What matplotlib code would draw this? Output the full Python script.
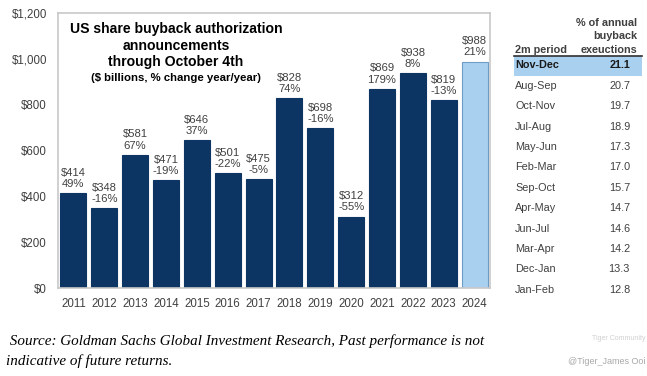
import matplotlib
matplotlib.use("Agg")
import matplotlib.pyplot as plt
from matplotlib.patches import Rectangle

years = ["2011", "2012", "2013", "2014", "2015", "2016", "2017", "2018", "2019",
         "2020", "2021", "2022", "2023", "2024"]
values = [414, 348, 581, 471, 646, 501, 475, 828, 698, 312, 869, 938, 819, 988]
changes = ["49%", "-16%", "67%", "-19%", "37%", "-22%", "-5%", "74%", "-16%",
           "-55%", "179%", "8%", "-13%", "21%"]
yticks = [0, 200, 400, 600, 800, 1000, 1200]
ytick_labels = ["$0", "$200", "$400", "$600", "$800", "$1,000", "$1,200"]

periods = ["Nov-Dec", "Aug-Sep", "Oct-Nov", "Jul-Aug", "May-Jun", "Feb-Mar",
           "Sep-Oct", "Apr-May", "Jun-Jul", "Mar-Apr", "Dec-Jan", "Jan-Feb"]
pcts = [21.1, 20.7, 19.7, 18.9, 17.3, 17.0, 15.7, 14.7, 14.6, 14.2, 13.3, 12.8]

plt.rcParams['font.family'] = ['Liberation Sans', 'DejaVu Sans']

W, H = 647, 376
fig = plt.figure(figsize=(W / 100, H / 100), dpi=100)
fig.patch.set_facecolor("white")

def fx(px):
    return px / W

def fy(py):
    return 1 - py / H

NAVY = "#0c3563"
LIGHT = "#a9d0ef"
GRAY = "#404040"

ax = fig.add_axes([fx(58), fy(288), fx(490) - fx(58), fy(13) - fy(288)])
x = list(range(len(years)))
colors = [NAVY] * (len(years) - 1) + [LIGHT]
edges = [NAVY] * (len(years) - 1) + ["#6d9cc6"]
ax.bar(x, values, width=0.84, color=colors, edgecolor=edges, linewidth=0.8)
ax.set_xlim(-0.5, 13.5)
ax.set_ylim(0, 1200)
ax.set_yticks(yticks)
ax.set_yticklabels(ytick_labels)
ax.set_xticks(x)
ax.set_xticklabels(years)
ax.tick_params(axis="both", length=0, labelsize=8.3, colors=GRAY, pad=7)
ax.tick_params(axis="y", pad=8)
for s in ax.spines.values():
    s.set_color("#c8c8c8")
    s.set_linewidth(1.2)

for xi, v, c in zip(x, values, changes):
    ax.annotate(f"${v}\n{c}", (xi, v), xytext=(0, 3), textcoords="offset points",
                ha="center", va="bottom", fontsize=8.1, color=GRAY, linespacing=1.15)

# title
tx = fx(176)
fig.text(tx, fy(29), "US share buyback authorization", ha="center", va="center",
         fontsize=10.1, fontweight="bold", color="black")
fig.text(tx, fy(46), "announcements", ha="center", va="center",
         fontsize=10.1, fontweight="bold", color="black")
fig.text(tx, fy(62), "through October 4th", ha="center", va="center",
         fontsize=10.1, fontweight="bold", color="black")
fig.text(tx, fy(78), "($ billions, % change year/year)", ha="center", va="center",
         fontsize=8.2, fontweight="bold", color="black")

# table
fig.text(fx(637), fy(23), "% of annual", ha="right", va="center", fontsize=7.8,
         fontweight="bold", color=GRAY)
fig.text(fx(637), fy(36), "buyback", ha="right", va="center", fontsize=7.8,
         fontweight="bold", color=GRAY)
fig.text(fx(637), fy(50), "exeuctions", ha="right", va="center", fontsize=7.8,
         fontweight="bold", color=GRAY)
fig.text(fx(515), fy(50), "2m period", ha="left", va="center", fontsize=7.8,
         fontweight="bold", color=GRAY)
fig.add_artist(plt.Line2D([fx(514), fx(642)], [fy(55.5), fy(55.5)], color="#303030",
                          linewidth=1.2, transform=fig.transFigure))
fig.add_artist(Rectangle((fx(514), fy(76)), fx(642) - fx(514), fy(56.5) - fy(76),
                         transform=fig.transFigure, facecolor=LIGHT, edgecolor="none"))
for i, (p, v) in enumerate(zip(periods, pcts)):
    yy = fy(65.5 + i * 20.4)
    bold = i == 0
    col = "#1a1a1a" if bold else GRAY
    fig.text(fx(515), yy, p, ha="left", va="center", fontsize=7.8,
             fontweight="bold" if bold else "normal", color=col)
    fig.text(fx(630), yy, f"{v:.1f}", ha="right", va="center", fontsize=7.8,
             fontweight="bold" if bold else "normal", color=col)

# source
fig.text(fx(6), fy(341), " Source: Goldman Sachs Global Investment Research, Past performance is not",
         ha="left", va="center", fontsize=10.9, style="italic", color="black",
         family="Liberation Serif")
fig.text(fx(6), fy(361), "indicative of future returns.",
         ha="left", va="center", fontsize=10.9, style="italic", color="black",
         family="Liberation Serif")

# watermark
fig.text(fx(645), fy(339), "Tiger Community", ha="right", va="center", fontsize=5,
         color="#d0d0d0")
fig.text(fx(645), fy(362), "@Tiger_James Ooi", ha="right", va="center", fontsize=6.5,
         color="#a8a8a8")

fig.savefig("out.png", dpi=100)
